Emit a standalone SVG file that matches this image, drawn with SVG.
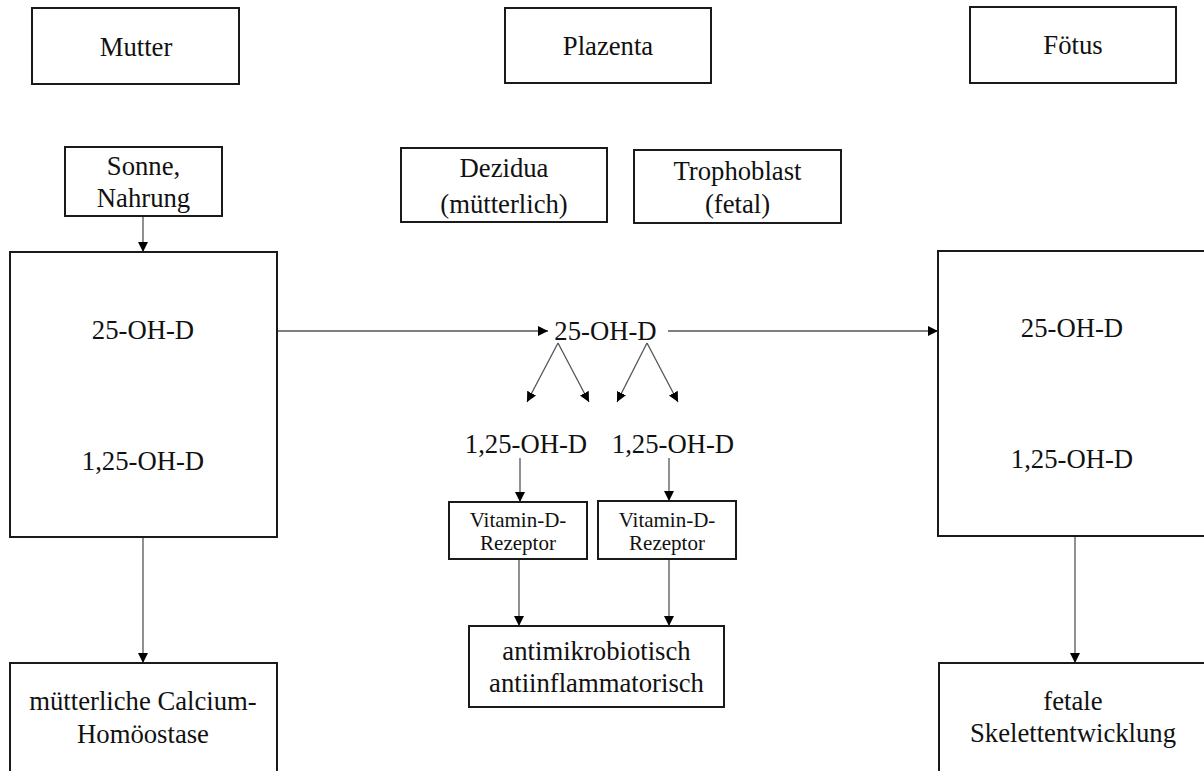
<svg xmlns="http://www.w3.org/2000/svg" width="1204" height="771" viewBox="0 0 1204 771">
<defs>
<marker id="ah" markerUnits="userSpaceOnUse" markerWidth="11" markerHeight="11" refX="10" refY="5" orient="auto">
<path d="M0,0 L10,5 L0,10 z" fill="#000"/>
</marker>
<style>
.box{fill:#fff;stroke:#1a1a1a;stroke-width:2}
.t{font-family:"Liberation Serif","Times New Roman",serif;font-size:26.7px;fill:#111;text-anchor:middle}
.s{font-family:"Liberation Serif","Times New Roman",serif;font-size:21px;fill:#111;text-anchor:middle}
.c{fill:none;stroke:#555;stroke-width:1.3;marker-end:url(#ah)}
</style>
</defs>
<rect width="1204" height="771" fill="#fff"/>
<g id="connectors">
<line class="c" x1="143" y1="216" x2="143" y2="252"/>
<line class="c" x1="143" y1="364" x2="143" y2="437"/>
<line class="c" x1="143" y1="537" x2="143" y2="663"/>
<line class="c" x1="277" y1="331" x2="548" y2="331"/>
<line class="c" x1="668" y1="331" x2="938" y2="331"/>
<line class="c" x1="558" y1="343" x2="527" y2="402"/>
<line class="c" x1="558" y1="343" x2="589" y2="402"/>
<line class="c" x1="647" y1="343" x2="617" y2="402"/>
<line class="c" x1="647" y1="343" x2="678" y2="402"/>
<line class="c" x1="520" y1="458" x2="520" y2="502"/>
<line class="c" x1="669" y1="458" x2="669" y2="501"/>
<line class="c" x1="519" y1="559" x2="519" y2="626"/>
<line class="c" x1="669" y1="559" x2="669" y2="626"/>
<line class="c" x1="1075" y1="364" x2="1075" y2="437"/>
<line class="c" x1="1075" y1="536" x2="1075" y2="663"/>
</g>
<g id="mutter"><rect class="box" x="32" y="8" width="207" height="76"/><text class="t" x="136" y="56">Mutter</text></g>
<g id="plazenta"><rect class="box" x="505" y="8" width="206" height="75"/><text class="t" x="608" y="55">Plazenta</text></g>
<g id="foetus"><rect class="box" x="970" y="7" width="206" height="76"/><text class="t" x="1073" y="54">Fötus</text></g>
<g id="sonne"><rect class="box" x="65" y="147" width="157" height="69"/><text class="t" x="143.5" y="175">Sonne,</text><text class="t" x="143.5" y="207">Nahrung</text></g>
<g id="dezidua"><rect class="box" x="401" y="148" width="206" height="74"/><text class="t" x="504" y="177">Dezidua</text><text class="t" x="504" y="213">(mütterlich)</text></g>
<g id="trophoblast"><rect class="box" x="634" y="150" width="207" height="73"/><text class="t" x="737.5" y="180">Trophoblast</text><text class="t" x="737.5" y="213">(fetal)</text></g>
<g id="mutter-box"><rect class="box" x="10" y="252" width="267" height="285"/><text class="t" x="143" y="339">25-OH-D</text><text class="t" x="143" y="470">1,25-OH-D</text></g>
<g id="plazenta-25"><text class="t" x="605.5" y="340">25-OH-D</text></g>
<g id="plazenta-125-l"><text class="t" x="526" y="453">1,25-OH-D</text></g>
<g id="plazenta-125-r"><text class="t" x="673" y="453">1,25-OH-D</text></g>
<g id="vdr-l"><rect class="box" x="449" y="502" width="138" height="57"/><text class="s" x="518" y="527">Vitamin-D-</text><text class="s" x="518" y="550">Rezeptor</text></g>
<g id="vdr-r"><rect class="box" x="598" y="501" width="138" height="58"/><text class="s" x="667" y="527">Vitamin-D-</text><text class="s" x="667" y="550">Rezeptor</text></g>
<g id="anti"><rect class="box" x="469" y="626" width="255" height="81"/><text class="t" x="596.5" y="660">antimikrobiotisch</text><text class="t" x="596.5" y="692">antiinflammatorisch</text></g>
<g id="foetus-box"><rect class="box" x="938" y="251" width="290" height="285"/><text class="t" x="1072" y="337">25-OH-D</text><text class="t" x="1072" y="468">1,25-OH-D</text></g>
<g id="calcium"><rect class="box" x="10" y="663" width="267" height="120"/><text class="t" x="143" y="710">mütterliche Calcium-</text><text class="t" x="143" y="743">Homöostase</text></g>
<g id="skelett"><rect class="box" x="939" y="663" width="290" height="120"/><text class="t" x="1073" y="710">fetale</text><text class="t" x="1073" y="742">Skelettentwicklung</text></g>
</svg>
